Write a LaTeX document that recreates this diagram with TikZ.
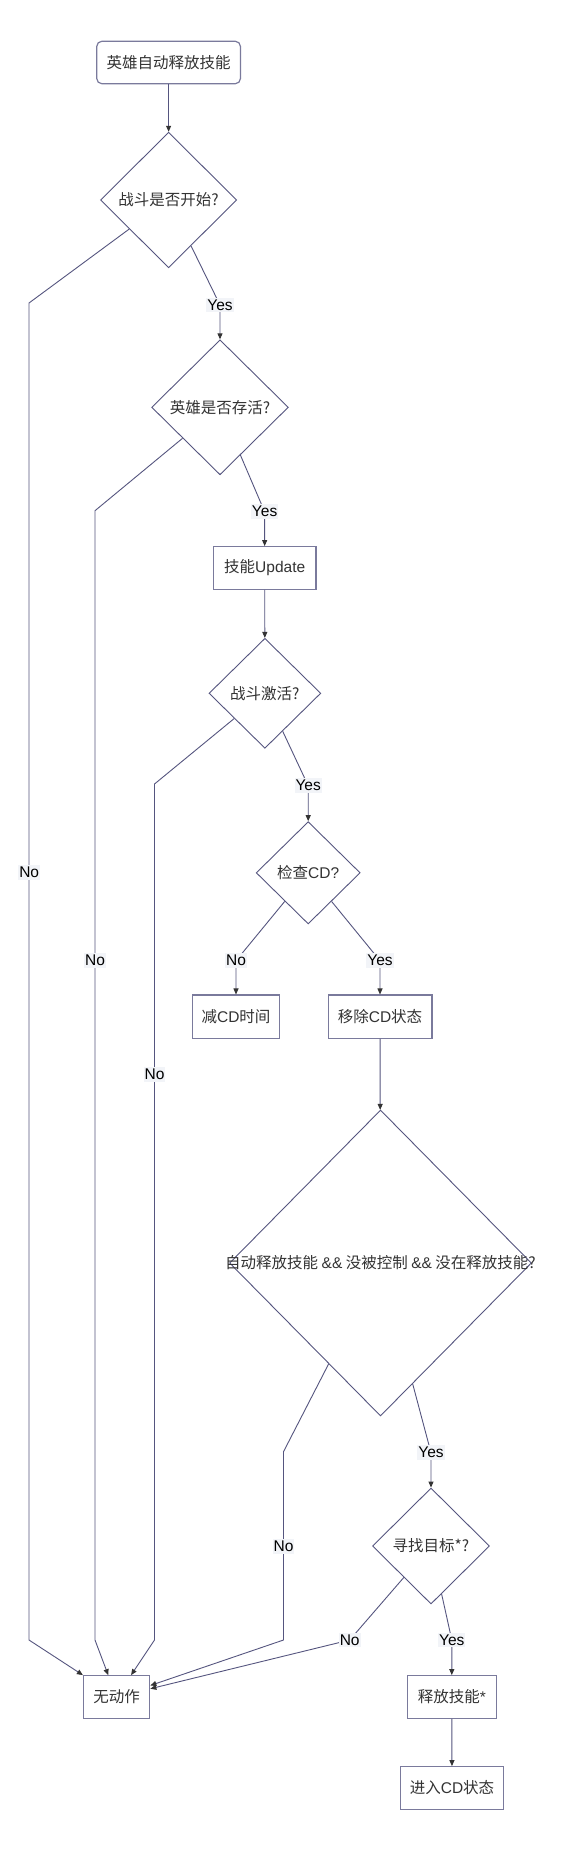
\documentclass[tikz,border=0pt]{standalone}
\usepackage{fontspec}
\setmainfont{Liberation Sans}
\newfontfamily\cjk{Noto Sans CJK SC}
\usetikzlibrary{shapes.geometric,arrows.meta}
\definecolor{edgec}{HTML}{55557F}
\definecolor{boxc}{HTML}{7A7A9C}
\definecolor{txt}{HTML}{333333}
\definecolor{labbg}{HTML}{F2F4F8}
\begin{document}
\begin{tikzpicture}[x=1pt,y=-1pt,
  every node/.style={font=\fontsize{15.5}{18}\selectfont, text=txt},
  procbox/.style={draw=boxc, line width=1.2pt, fill=white, rectangle, inner sep=0pt},
  dia/.style={draw=edgec, line width=0.9pt, fill=white, diamond, inner sep=0pt},
  edge/.style={draw=edgec, line width=0.9pt, -{Triangle[length=6pt,width=5pt,color=txt]}},
  lab/.style={fill=labbg, inner xsep=1pt, inner ysep=2pt, text=black, font=\fontsize{15.5}{18}\selectfont}
]
\useasboundingbox (0,0) rectangle (570,1870);
\fill[white] (0,0) rectangle (570,1870);

% nodes
\node[procbox, rounded corners=5pt, minimum width=143.6pt, minimum height=42.4pt] (b1) at (168.6,62.5) {\cjk 英雄自动释放技能};
\node[dia, minimum width=136.3pt, minimum height=135.5pt] (d1) at (168.6,200) {\makebox[0pt]{\cjk 战斗是否开始?}};
\node[dia, minimum width=136.7pt, minimum height=135pt] (d2) at (220,407.3) {\makebox[0pt]{\cjk 英雄是否存活?}};
\node[procbox, minimum width=102.6pt, minimum height=42.6pt] (b2) at (264.7,568) {{\cjk 技能}Update};
\node[dia, minimum width=111.8pt, minimum height=110pt] (d3) at (264.9,693.3) {\makebox[0pt]{\cjk 战斗激活?}};
\node[dia, minimum width=104pt, minimum height=102.3pt] (d4) at (308.2,872.8) {\makebox[0pt]{{\cjk 检查}CD?}};
\node[procbox, minimum width=87.7pt, minimum height=43.3pt] (b3) at (236,1016.7) {{\cjk 减}CD{\cjk 时间}};
\node[procbox, minimum width=103.8pt, minimum height=43.3pt] (b4) at (380,1016.7) {{\cjk 移除}CD{\cjk 状态}};
\node[dia, minimum width=302pt, minimum height=306pt] (d5) at (380.5,1263) {\makebox[0pt]{\cjk 自动释放技能 {\rmfamily\&\&} 没被控制 {\rmfamily\&\&} 没在释放技能?}};
\node[dia, minimum width=117pt, minimum height=116pt] (d6) at (431,1546) {\makebox[0pt]{\cjk 寻找目标*?}};
\node[procbox, minimum width=66.5pt, minimum height=42.6pt] (b5) at (116.5,1697) {\cjk 无动作};
\node[procbox, minimum width=88.8pt, minimum height=42.6pt] (b6) at (451.8,1697) {{\cjk 释放技能}*};
\node[procbox, minimum width=102.7pt, minimum height=42.6pt] (b7) at (452,1788) {{\cjk 进入}CD{\cjk 状态}};

% bend points
\coordinate (n1a) at (29,303);
\coordinate (n1b) at (29,1640);
\coordinate (y1) at (220,305);
\coordinate (n2a) at (95,510.7);
\coordinate (n2b) at (95,1640);
\coordinate (y2) at (264.6,511.7);
\coordinate (n3a) at (154.5,784);
\coordinate (n3b) at (154.5,1640);
\coordinate (y3) at (308.2,785.7);
\coordinate (n4) at (236,960.7);
\coordinate (y4) at (380,960.7);
\coordinate (n5a) at (283.5,1451.7);
\coordinate (n5b) at (283.5,1640);
\coordinate (y5) at (431,1452.7);
\coordinate (n6) at (349.7,1640);
\coordinate (y6) at (451.8,1640);

% edges
\draw[edge] (b1) -- (d1);
\draw[edge] (d1) -- (n1a) -- (n1b) -- (b5);
\draw[edge] (d1) -- (y1) -- (d2);
\draw[edge] (d2) -- (n2a) -- (n2b) -- (b5);
\draw[edge] (d2) -- (y2) -- (b2);
\draw[edge] (b2) -- (d3);
\draw[edge] (d3) -- (n3a) -- (n3b) -- (b5);
\draw[edge] (d3) -- (y3) -- (d4);
\draw[edge] (d4) -- (n4) -- (b3);
\draw[edge] (d4) -- (y4) -- (b4);
\draw[edge] (b4) -- (d5);
\draw[edge] (d5) -- (n5a) -- (n5b) -- (b5);
\draw[edge] (d5) -- (y5) -- (d6);
\draw[edge] (d6) -- (n6) -- (b5);
\draw[edge] (d6) -- (y6) -- (b6);
\draw[edge] (b6) -- (b7);

% labels
\node[lab] (l1) at (29.2,872.7) {No};
\node[lab] (l2) at (y1) {Yes};
\node[lab] (l3) at (95,960.7) {No};
\node[lab] (l4) at (y2) {Yes};
\node[lab] (l5) at (154.5,1074.3) {No};
\node[lab] (l6) at (y3) {Yes};
\node[lab] (l7) at (n4) {No};
\node[lab] (l8) at (y4) {Yes};
\node[lab] (l9) at (283.5,1546.7) {No};
\node[lab] (l10) at (y5) {Yes};
\node[lab] (l11) at (n6) {No};
\node[lab] (l12) at (y6) {Yes};
\end{tikzpicture}
\end{document}
